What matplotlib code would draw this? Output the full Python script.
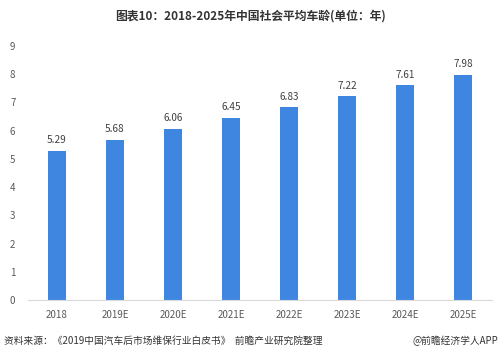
import matplotlib.pyplot as plt

plt.rcParams['font.family'] = ['Noto Sans CJK SC', 'DejaVu Sans']

years = ['2018', '2019E', '2020E', '2021E', '2022E', '2023E', '2024E', '2025E']
avg_age = [5.29, 5.68, 6.06, 6.45, 6.83, 7.22, 7.61, 7.98]

fig = plt.figure(figsize=(5, 3.56), dpi=100)
ax = fig.add_axes([0.056, 0.157, 0.928, 0.714])

x = range(len(years))
bars = ax.bar(x, avg_age, width=0.31, color='#3F86E0')
for xi, v in zip(x, avg_age):
    ax.text(xi, v + 0.2, f'{v:.2f}', ha='center', va='bottom', fontsize=7.2, color='#404040')

ax.set_xlim(-0.5, len(years) - 0.5)
ax.set_ylim(0, 9)
ax.set_yticks(range(10))
ax.set_xticks(list(x))
ax.set_xticklabels(years)
ax.tick_params(axis='both', length=0, labelsize=7, colors='#595959')
ax.tick_params(axis='y', pad=9)
ax.tick_params(axis='x', pad=7)
for s in ['top', 'right', 'left']:
    ax.spines[s].set_visible(False)
ax.spines['bottom'].set_color('#D9D9D9')

fig.text(0.5, 0.955, '图表10：2018-2025年中国社会平均车龄(单位：年)', ha='center', va='center',
         fontsize=8.5, fontweight='bold', color='#333333')
fig.text(0.008, 0.042, '资料来源：《2019中国汽车后市场维保行业白皮书》  前瞻产业研究院整理', ha='left', va='center',
         fontsize=7, color='#333333')
fig.text(0.997, 0.042, '@前瞻经济学人APP', ha='right', va='center', fontsize=7, color='#333333')

fig.savefig('out.png', dpi=100)
